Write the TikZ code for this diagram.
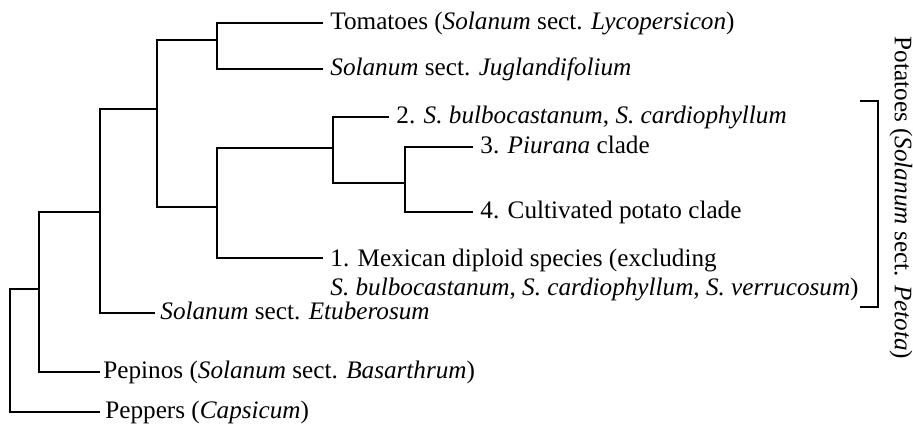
\documentclass[tikz,border=0pt]{standalone}
\usepackage{fontspec}
\setmainfont{Liberation Serif}
\begin{document}
\begin{tikzpicture}[
        x=0.5pt, y=-0.5pt,
        branch/.style={draw=black, line width=1.1pt},
        leaf/.style={anchor=west, inner xsep=3.5pt, inner ysep=0pt, text height=0.89em, text depth=0.25em},
        font=\fontsize{12.6}{14.5}\selectfont
    ]
    \useasboundingbox (0,0) rectangle (913,425);

    % ==========================================
    % LEAVES
    % ==========================================
    \node[leaf] (tomato) at (323,23) {Tomatoes (\textit{Solanum} sect. \textit{Lycopersicon})};
    \node[leaf] (jugl) at (323,69) {\textit{Solanum} sect. \textit{Juglandifolium}};
    \node[leaf] (bulbo) at (389,117) {2. \textit{S. bulbocastanum}, \textit{S. cardiophyllum}};
    \node[leaf] (piurana) at (473,147) {3. \textit{Piurana} clade};
    \node[leaf] (cultiv) at (473,212) {4. Cultivated potato clade};
    \coordinate (mexend) at (323,258);
    \node[anchor=base west, align=left, inner sep=0pt] (mexican) at ([xshift=3.5pt, yshift=-18.5pt]mexend)
        {1. Mexican diploid species (excluding\\
        \textit{S. bulbocastanum}, \textit{S. cardiophyllum}, \textit{S. verrucosum})};
    \node[leaf, inner xsep=2.5pt] (etuber) at (155,313) {\textit{Solanum} sect. \textit{Etuberosum}};
    \node[leaf, inner xsep=1.5pt] (pepino) at (100,372) {Pepinos (\textit{Solanum} sect. \textit{Basarthrum})};
    \node[leaf, inner xsep=2.5pt] (pepper) at (100,412) {Peppers (\textit{Capsicum})};

    % ==========================================
    % INNER NODES
    % ==========================================
    \coordinate (tomjug) at (217,40);
    \coordinate (petota) at (217,207);
    \coordinate (bulbq) at (333,148);
    \coordinate (piucult) at (405,183);
    \coordinate (tomclade) at (157,109);
    \coordinate (etuclade) at (100,212);
    \coordinate (pepclade) at (39,289);
    \coordinate (root) at (10,350);

    % ==========================================
    % BRANCHES
    % ==========================================
    \draw[branch] (tomato.west) -| (tomjug) |- (jugl.west);
    \draw[branch] (piurana.west) -| (piucult) |- (cultiv.west);
    \draw[branch] (bulbo.west) -| (bulbq) |- (piucult);
    \draw[branch] (bulbq) -| (petota) |- (mexend);
    \draw[branch] (tomjug) -| (tomclade) |- (petota);
    \draw[branch] (tomclade) -| (etuclade) |- (etuber.west);
    \draw[branch] (etuclade) -| (pepclade) |- (pepino.west);
    \draw[branch] (pepclade) -| (root) |- (pepper.west);

    % ==========================================
    % BRACKET: Petota
    % ==========================================
    \coordinate (brtop) at (878,101);
    \coordinate (brbot) at (878,307);
    \draw[branch, line width=0.9pt] ([xshift=-9pt]brtop) -- (brtop) -- (brbot) -- ([xshift=-9pt]brbot);
    \node[rotate=-90, inner sep=0pt] (petotalab) at (901,198) {Potatoes (\textit{Solanum} sect. \textit{Petota})};

\end{tikzpicture}
\end{document}
